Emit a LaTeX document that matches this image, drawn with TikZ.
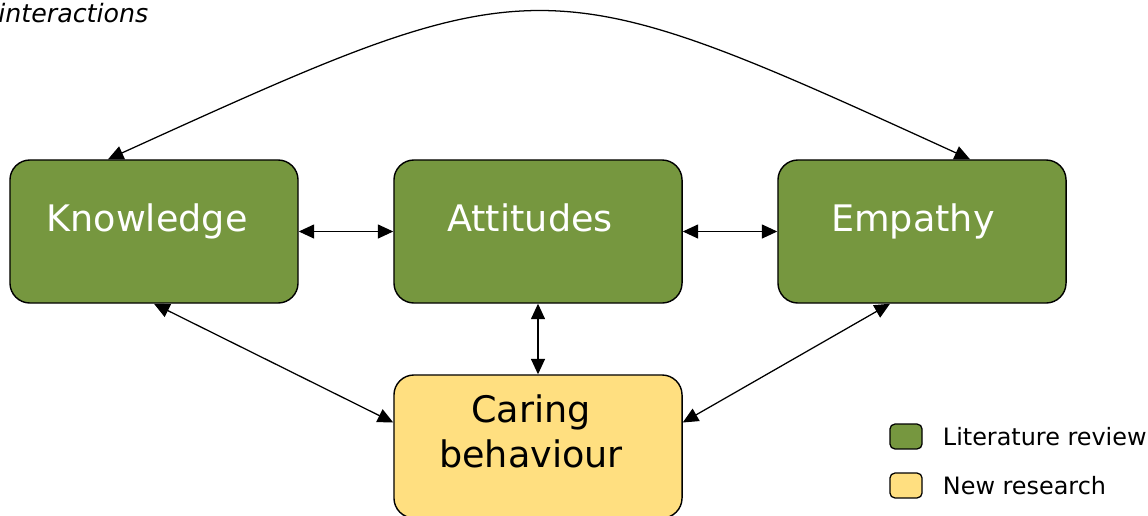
\documentclass[tikz,border=0pt]{standalone}
\usepackage{fontspec}
\setmainfont{DejaVu Sans}
\usetikzlibrary{arrows.meta,positioning}
\definecolor{litgreen}{HTML}{76973F}
\definecolor{newyellow}{HTML}{FFDF80}
\begin{document}
\begin{tikzpicture}[x=0.025cm,y=-0.025cm,
        box/.style={draw,line width=1pt,rounded corners=0.5cm,minimum width=7.2cm,minimum height=3.575cm,
            font=\fontsize{26}{32}\selectfont,text height=0.5cm,text depth=0.5cm},
        keybox/.style={draw,line width=0.9pt,rounded corners=0.12cm,minimum width=0.8cm,minimum height=0.62cm,inner sep=0pt},
        keytext/.style={inner sep=0pt,font=\fontsize{17}{20}\selectfont},
        link/.style={line width=0.9pt,{Triangle[length=11pt,width=10pt]}-{Triangle[length=11pt,width=10pt]}}]
            \useasboundingbox (0,0) rectangle (1148,515);
            \clip (0,0) rectangle (1148,515);
            \node[anchor=base west,inner sep=0pt,font=\fontsize{18}{22}\selectfont\itshape] (title) at (-2,22){interactions};
        
            \node[box,fill=litgreen,text=white] (know) at (154,231.5){Knowledge\hspace*{0.35cm}};
            \node[box,fill=litgreen,text=white] (att) at (538,231.5){Attitudes\hspace*{0.4cm}};
            \node[box,fill=litgreen,text=white] (emp) at (922,231.5){Empathy\hspace*{0.45cm}};
            \node[box,fill=newyellow,align=center,text height=1.45cm,text depth=0.38cm] (care) at (538,446.5){Caring\hspace*{0.35cm}\\behaviour\hspace*{0.35cm}};
        
            \node[keybox,fill=litgreen] (litkey) at (906,436.5){};
            \node[keytext,right=0.5cm of litkey] (littext){Literature review};
            \node[keybox,fill=newyellow] (newkey) at (906,485.5){};
            \node[keytext,right=0.5cm of newkey] (newtext){New research};
        
            \draw[link] (know) -- (att);
            \draw[link] (att) -- (emp);
            \draw[link] (att) -- (care);
            \draw[link] (know.south) -- ([yshift=0.6cm]care.west);
            \draw[link] ([xshift=-0.8cm]emp.south) -- ([yshift=0.6cm]care.east);
            \draw[link] ([xshift=-1.15cm]know.north) .. controls (540,-37) .. ([xshift=1.2cm]emp.north);
        \end{tikzpicture}
\end{document}
